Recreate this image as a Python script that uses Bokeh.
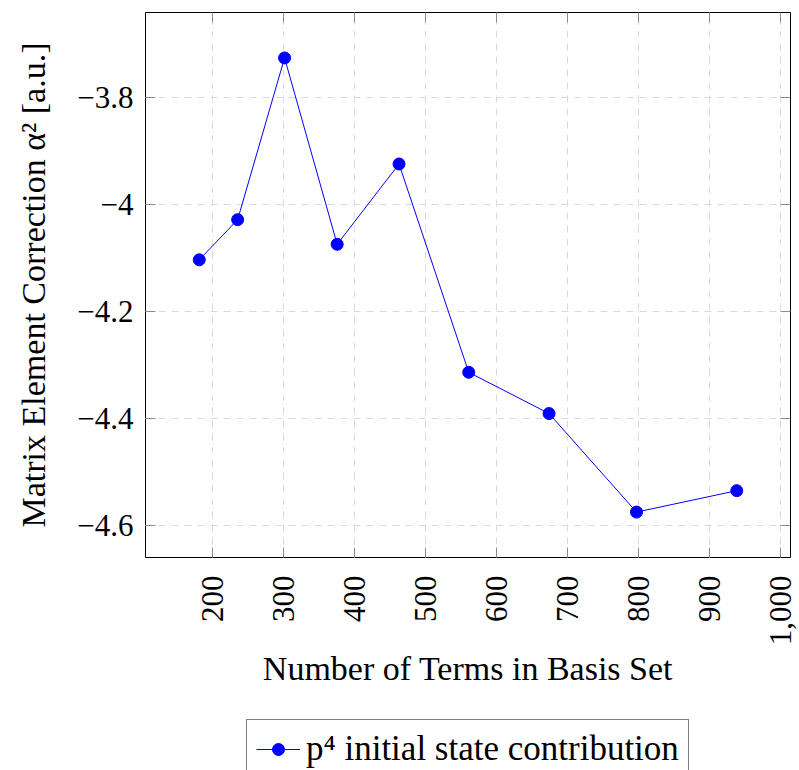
import numpy as np
from bokeh.plotting import figure
from bokeh.layouts import column
from bokeh.models import Range1d, FixedTicker, LinearAxis, Legend, LegendItem
from bokeh.embed import file_html
from bokeh.resources import INLINE

# ---- data ----
n_terms = [182, 236, 302, 376, 463, 561, 674, 797, 938]
correction = [-4.104, -4.029, -3.727, -4.075, -3.925, -4.314, -4.391, -4.575, -4.535]

x_ticks = [200, 300, 400, 500, 600, 700, 800, 900, 1000]
x_tick_labels = ["200", "300", "400", "500", "600", "700", "800", "900", "1,000"]
y_ticks = [-4.6, -4.4, -4.2, -4.0, -3.8]
y_tick_labels = ["\u22124.6", "\u22124.4", "\u22124.2", "\u22124", "\u22123.8"]

series_label = "p\u2074 initial state contribution"
x_title = "Number of Terms in Basis Set"
y_title = "Matrix Element Correction \u03b1\u00b2 [a.u.]"

FONT = "Liberation Serif"
TICK_COLOR = "#8a8a8a"
GRID_COLOR = "#dadada"
SERIES_COLOR = "blue"

BORDER_L, BORDER_R, FRAME_W = 145, 9, 645


def enlarged(vals, frac=0.1):
    lo, hi = min(vals), max(vals)
    pad = (hi - lo) * frac
    return lo - pad, hi + pad


p = figure(
    frame_width=FRAME_W, frame_height=545,
    x_range=Range1d(*enlarged(n_terms)),
    y_range=Range1d(*enlarged(correction)),
    output_backend="svg", toolbar_location=None,
    min_border_left=BORDER_L, min_border_top=12, min_border_right=BORDER_R,
    min_border_bottom=150,
)
p.outline_line_color = "black"
p.outline_line_width = 1
p.background_fill_color = "white"
p.border_fill_color = "white"

xt = FixedTicker(ticks=x_ticks)
yt = FixedTicker(ticks=y_ticks)

# main axes
xa = p.xaxis[0]
xa.ticker = xt
xa.major_label_overrides = dict(zip(x_ticks, x_tick_labels))
xa.major_label_orientation = np.pi / 2
xa.major_label_standoff = 18
xa.axis_label = x_title
xa.axis_label_standoff = 2

ya = p.yaxis[0]
ya.ticker = yt
ya.major_label_overrides = dict(zip(y_ticks, y_tick_labels))
ya.major_label_standoff = 12
ya.axis_label = y_title
ya.axis_label_standoff = 22

for ax in (xa, ya):
    ax.major_label_text_font = FONT
    ax.major_label_text_font_size = "31px"
    ax.major_label_text_color = "black"
    ax.axis_label_text_font = FONT
    ax.axis_label_text_font_size = "34px"
    ax.axis_label_text_font_style = "normal"
    ax.axis_label_text_color = "black"
    ax.axis_line_color = None
    ax.major_tick_in = 10
    ax.major_tick_out = 0
    ax.major_tick_line_color = TICK_COLOR
    ax.minor_tick_line_color = None

# mirrored ticks on top and right
top_ax = LinearAxis(ticker=xt, major_label_overrides={t: "" for t in x_ticks})
right_ax = LinearAxis(ticker=yt, major_label_overrides={t: "" for t in y_ticks})
for ax in (top_ax, right_ax):
    ax.axis_line_color = None
    ax.major_tick_in = 10
    ax.major_tick_out = 0
    ax.major_tick_line_color = TICK_COLOR
    ax.minor_tick_line_color = None
    ax.major_label_standoff = 0
    ax.major_label_text_font_size = "1px"
p.add_layout(top_ax, "above")
p.add_layout(right_ax, "right")

# grid
p.xgrid.ticker = xt
p.ygrid.ticker = yt
for g in (p.xgrid, p.ygrid):
    g.grid_line_color = GRID_COLOR
    g.grid_line_dash = "7 6"
    g.grid_line_width = 1

# series
p.line(n_terms, correction, line_color=SERIES_COLOR, line_width=1)
p.scatter(n_terms, correction, size=12, fill_color=SERIES_COLOR, line_color=SERIES_COLOR)

# legend strip below the plot (separate canvas so the legend is not clipped);
# its series copies lie outside this strip's ranges, so only the legend shows
leg_fig = figure(
    frame_width=FRAME_W, frame_height=63,
    x_range=Range1d(0, 1), y_range=Range1d(0, 1),
    x_axis_type=None, y_axis_type=None,
    output_backend="svg", toolbar_location=None,
    min_border_left=BORDER_L, min_border_top=0, min_border_right=BORDER_R,
    min_border_bottom=0,
)
leg_fig.outline_line_color = None
leg_fig.background_fill_color = "white"
leg_fig.border_fill_color = "white"
leg_line = leg_fig.line(n_terms, correction, line_color=SERIES_COLOR, line_width=1)
leg_dot = leg_fig.scatter(n_terms, correction, size=12, fill_color=SERIES_COLOR,
                          line_color=SERIES_COLOR)

legend = Legend(
    items=[LegendItem(label=series_label, renderers=[leg_line, leg_dot])],
    location=(101, -9), orientation="horizontal",
    border_line_color="black", border_line_width=1,
    background_fill_color="white", background_fill_alpha=1,
    label_text_font=FONT, label_text_font_size="35px", label_text_color="black",
    glyph_width=44, glyph_height=30, label_standoff=6,
    padding=9, margin=0, spacing=0,
)
leg_fig.add_layout(legend, "center")

layout = column(p, leg_fig, spacing=0)
open("out.html", "w").write(file_html(layout, INLINE))
